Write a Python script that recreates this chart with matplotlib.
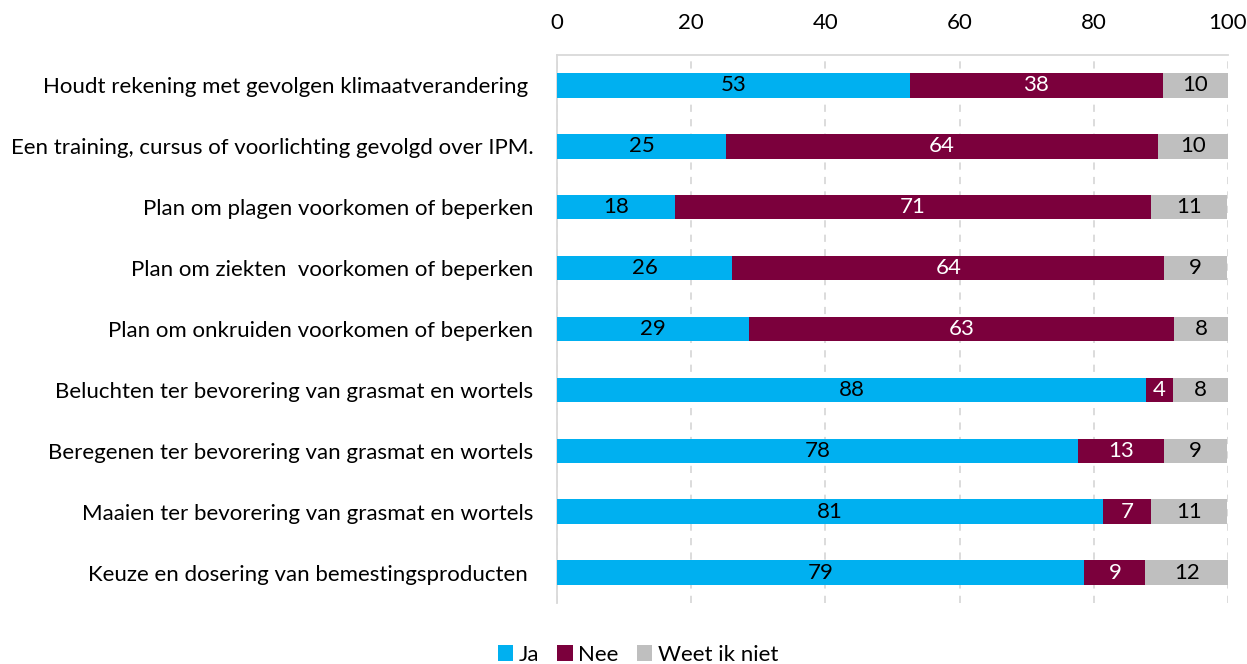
import matplotlib
matplotlib.use("Agg")
import matplotlib.pyplot as plt
from matplotlib.patches import Patch

plt.rcParams['font.family'] = ['Lato', 'DejaVu Sans']

categories = [
    "Houdt rekening met gevolgen klimaatverandering ",
    "Een training, cursus of voorlichting gevolgd over IPM.",
    "Plan om plagen voorkomen of beperken",
    "Plan om ziekten  voorkomen of beperken",
    "Plan om onkruiden voorkomen of beperken",
    "Beluchten ter bevorering van grasmat en wortels",
    "Beregenen ter bevorering van grasmat en wortels",
    "Maaien ter bevorering van grasmat en wortels",
    "Keuze en dosering van bemestingsproducten ",
]
ja = [52.6, 25.2, 17.6, 26.1, 28.6, 87.8, 77.6, 81.4, 78.6]
nee = [37.7, 64.4, 70.9, 64.4, 63.3, 4.0, 12.9, 7.1, 9.1]
weet = [9.7, 10.4, 11.4, 9.4, 8.2, 8.2, 9.4, 11.4, 12.4]
series_names = ["Ja", "Nee", "Weet ik niet"]
colors = ["#00B0F0", "#7B003C", "#BFBFBF"]
text_colors = ["black", "white", "black"]
xticks = [0, 20, 40, 60, 80, 100]

FS = 16

fig = plt.figure(figsize=(12.47, 6.64), dpi=100)
ax = fig.add_axes([557/1247, 1 - 603/664, (1228-557)/1247, (603-55)/664])

y = list(range(len(categories)))
left = [0]*len(categories)
for vals, c, tc in zip([ja, nee, weet], colors, text_colors):
    bars = ax.barh(y, vals, left=left, height=0.4, color=c, zorder=3)
    for b, v in zip(bars, vals):
        ax.text(b.get_x() + b.get_width()/2, b.get_y() + b.get_height()/2,
                f"{v:.0f}", ha='center', va='center', color=tc, fontsize=FS, zorder=4)
    left = [l + v for l, v in zip(left, vals)]

ax.set_xlim(0, 100)
ax.set_ylim(len(categories) - 0.5, -0.5)
ax.set_yticks(y)
ax.set_yticklabels(categories, fontsize=FS)
ax.set_xticks(xticks)
ax.xaxis.tick_top()
ax.tick_params(axis='x', length=0, pad=16, labelsize=FS)
ax.tick_params(axis='y', length=0, pad=17)
ax.grid(axis='x', color='#D9D9D9', linestyle=(0, (4, 4)), linewidth=1.3, zorder=0)
for s in ['right', 'bottom']:
    ax.spines[s].set_visible(False)
for s in ['top', 'left']:
    ax.spines[s].set_color('#D9D9D9')
    ax.spines[s].set_linewidth(1.3)

handles = [Patch(facecolor=c, label=n) for c, n in zip(colors, series_names)]
fig.legend(handles=handles, loc='center', bbox_to_anchor=(638/1247, 1 - 655/664),
           ncol=3, frameon=False, fontsize=FS, handlelength=0.7, handleheight=0.7,
           handletextpad=0.25, columnspacing=0.8)

fig.savefig("out.png", dpi=100)
